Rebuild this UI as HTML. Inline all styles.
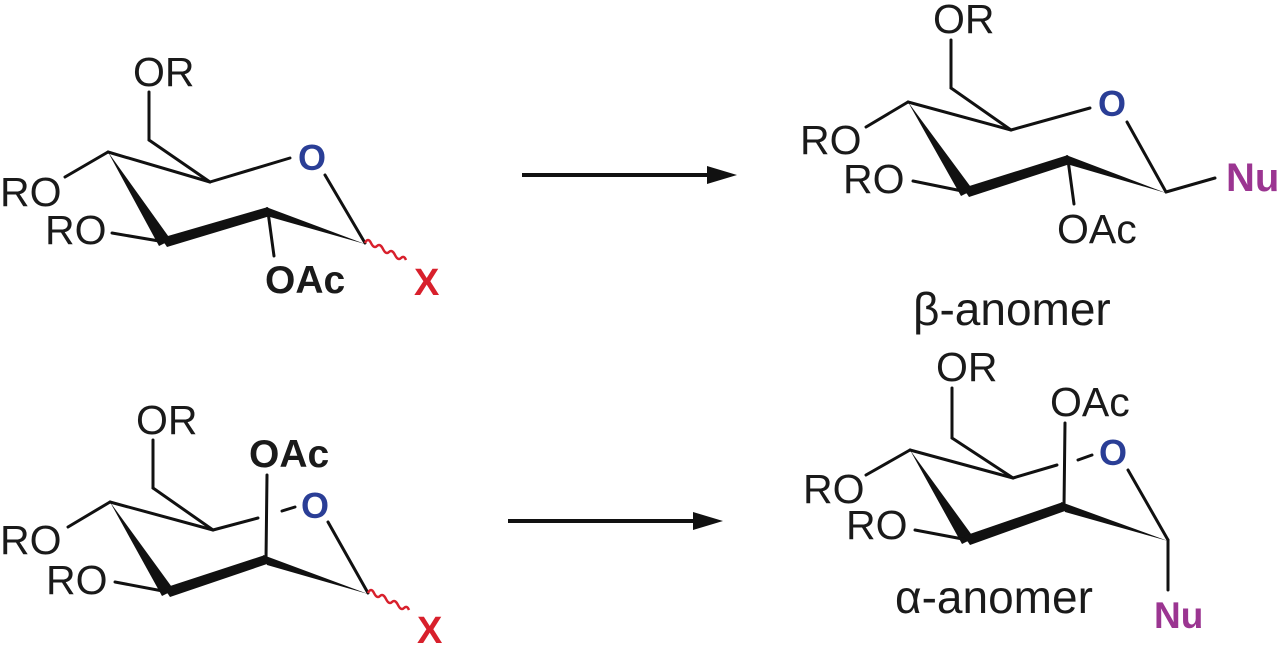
<!DOCTYPE html>
<html><head><meta charset="utf-8"><style>
html,body{margin:0;padding:0;background:#fff;}
svg{display:block;}
text{font-family:"Liberation Sans",Arial,sans-serif;}
.n{font-size:41px;fill:#1a1a1a;}
.b{font-size:39px;font-weight:bold;fill:#1a1a1a;}
.o{font-size:36px;font-weight:bold;fill:#2a3e96;}
.x{font-size:38px;font-weight:bold;fill:#d8202c;}
.nu{font-size:40px;font-weight:bold;fill:#9b3591;}
line,path.l{stroke:#111;stroke-width:3;fill:none;stroke-linecap:round;}
polygon{fill:#111;}
</style></head><body>
<svg width="1281" height="646" viewBox="0 0 1281 646" xmlns="http://www.w3.org/2000/svg">

<!-- Structure 1 -->
<text class="n" x="133" y="86">OR</text>
<line x1="149" y1="92" x2="149" y2="140"/>
<line x1="149" y1="140" x2="210" y2="182"/>
<line x1="210" y1="182" x2="290" y2="158"/>
<text class="o" x="298" y="170">O</text>
<line x1="108" y1="152" x2="210" y2="182"/>
<line x1="108" y1="152" x2="65" y2="177"/>
<text class="n" x="0" y="206">RO</text>
<polygon points="108,152 159,246 171,240"/>
<line x1="165" y1="242" x2="112" y2="233"/>
<text class="n" x="45" y="244">RO</text>
<polygon points="161,238 268,207 270,216 167,247"/>
<polygon points="266,207 270,217 365,244"/>
<line x1="268" y1="212" x2="274" y2="256"/>
<text class="b" x="265" y="293">OAc</text>
<line x1="365" y1="243" x2="325" y2="175"/>
<path d="M365,243 q3,-6 6,0 t6,3 t6,3 t6,3 t6,3 t6,3 t5,2" stroke="#d8202c" stroke-width="2.5" fill="none"/>
<text class="x" x="414" y="295">X</text>

<!-- Arrow 1 -->
<line x1="522" y1="175" x2="710" y2="175" style="stroke-width:4;stroke-linecap:butt"/>
<polygon points="707,166 737,175 707,184"/>

<!-- Structure 2 -->
<text class="n" x="933" y="33">OR</text>
<line x1="951" y1="40" x2="951" y2="88"/>
<line x1="951" y1="88" x2="1011" y2="130"/>
<line x1="1011" y1="130" x2="1090" y2="108"/>
<text class="o" x="1098" y="116">O</text>
<line x1="908" y1="102" x2="1011" y2="130"/>
<line x1="908" y1="102" x2="866" y2="127"/>
<text class="n" x="800" y="154">RO</text>
<polygon points="908,102 961,196 973,190"/>
<line x1="967" y1="192" x2="913" y2="181"/>
<text class="n" x="843" y="193">RO</text>
<polygon points="963,188 1068,155 1070,164 969,197"/>
<polygon points="1066,155 1070,165 1166,193"/>
<line x1="1068" y1="160" x2="1074" y2="204"/>
<text class="n" x="1057" y="243">OAc</text>
<line x1="1166" y1="192" x2="1127" y2="122"/>
<line x1="1166" y1="192" x2="1215" y2="178"/>
<text class="nu" x="1226" y="191">Nu</text>

<text class="n" x="913" y="325" style="font-size:46px">β-anomer</text>

<!-- Structure 3 -->
<text class="n" x="136" y="434">OR</text>
<line x1="153" y1="440" x2="153" y2="488"/>
<line x1="153" y1="488" x2="213" y2="530"/>
<line x1="213" y1="530" x2="258" y2="518"/>
<line x1="282" y1="511" x2="295" y2="507"/>
<text class="o" x="301" y="518">O</text>
<line x1="110" y1="502" x2="213" y2="530"/>
<line x1="110" y1="502" x2="68" y2="527"/>
<text class="n" x="0" y="554">RO</text>
<polygon points="110,502 162,596 174,590"/>
<line x1="168" y1="592" x2="115" y2="582"/>
<text class="n" x="46" y="594">RO</text>
<polygon points="164,588 265,555 267,564 170,597"/>
<line x1="267" y1="475" x2="266" y2="560"/>
<text class="b" x="249" y="467">OAc</text>
<polygon points="263,555 267,565 368,594"/>
<line x1="368" y1="593" x2="328" y2="522"/>
<path d="M368,593 q3,-6 6,0 t6,3 t6,3 t6,3 t6,3 t6,3 t5,2" stroke="#d8202c" stroke-width="2.5" fill="none"/>
<text class="x" x="417" y="643">X</text>

<!-- Arrow 2 -->
<line x1="508" y1="521" x2="696" y2="521" style="stroke-width:4;stroke-linecap:butt"/>
<polygon points="693,512 723,521 693,530"/>

<!-- Structure 4 -->
<text class="n" x="936" y="381">OR</text>
<line x1="952" y1="388" x2="952" y2="438"/>
<line x1="952" y1="438" x2="1013" y2="478"/>
<line x1="1013" y1="478" x2="1057" y2="465"/>
<line x1="1078" y1="460" x2="1092" y2="455"/>
<text class="o" x="1099" y="465">O</text>
<text class="n" x="1050" y="416">OAc</text>
<line x1="1065" y1="423" x2="1064" y2="507"/>
<line x1="910" y1="450" x2="1013" y2="478"/>
<line x1="910" y1="450" x2="866" y2="475"/>
<text class="n" x="803" y="503">RO</text>
<polygon points="910,450 962,544 974,538"/>
<line x1="968" y1="540" x2="915" y2="530"/>
<text class="n" x="846" y="539">RO</text>
<polygon points="964,536 1063,502 1065,511 970,545"/>
<polygon points="1061,502 1065,512 1168,541"/>
<line x1="1168" y1="540" x2="1168" y2="590"/>
<line x1="1168" y1="540" x2="1128" y2="470"/>
<text class="nu" x="1154" y="628" style="font-size:37px">Nu</text>

<text class="n" x="895" y="613" style="font-size:46px">α-anomer</text>
</svg>
</body></html>
